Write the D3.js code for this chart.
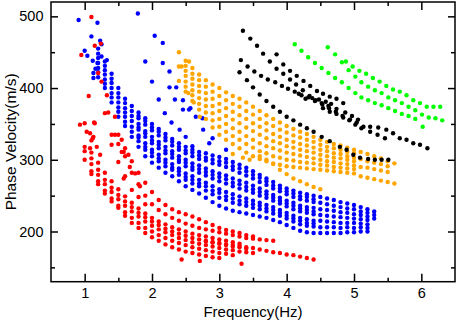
<!DOCTYPE html>
<html>
<head>
<meta charset="utf-8">
<script src="https://cdn.jsdelivr.net/npm/d3@7"></script>
<style>
    body { margin: 0; background: #fff; }
    svg { display: block; font-family: "Liberation Sans", Arial, sans-serif; }
</style>
</head>
<body>
<div class="scatter_chart"></div>
<script>
const _ = null

// axis ticks
const xTicks = [1, 2, 3, 4, 5, 6]
const xMinorTicks = [1.5, 2.5, 3.5, 4.5, 5.5]
const yTicks = [200, 300, 400, 500]
const yMinorTicks = [150, 250, 350, 450]

// red: frequency grid + rows of phase velocity
const redFreq = [1.0, 1.1, 1.2, 1.3, 1.4, 1.5, 1.6, 1.7, 1.8, 1.9,
    2.0, 2.1, 2.2, 2.3, 2.4, 2.5, 2.6, 2.7, 2.8, 2.9,
    3.0, 3.1, 3.2, 3.3, 3.4, 3.5, 3.6, 3.7, 3.8, 3.9,
    4.0, 4.1, 4.2, 4.3, 4.4]
const redRows = [
    [_, _, _, _, _, 335, 316, 298, 282, 268, 255, 244, 237, 231, 227, 224, 221, 217, 213, 209, 205, 202, 200, 198, 195, 193, _, _, _, _, _, _, _, _, _],
    [_, _, _, _, 335, 322, 305, 282, 266, 250, 238, 230, 224, 219, 215, 211, 208, 205, 203, 201, 199, 197, 195, 193, 191, 190, 189, 188, 187, _, _, _, _, _, _],
    [_, _, _, _, 321, 297, 277, 258, 248, 238, _, _, _, _, _, _, _, _, _, _, _, _, _, _, _, _, _, _, _, _, _, _, _, _, _],
    [_, 310, 296, 282, 270, 259, 249, 240, 232, 225, 219, 214, 210, 206, 203, 200, 197, 195, 193, 191, 189, 187, 185, 183, _, _, _, _, _, _, _, _, _, _, _],
    [318, 302, 286, 272, 261, 251, 242, 234, 226, 220, 214, 209, 204, 200, 197, 194, 191, 189, 187, 185, 183, 181, 179, 178, 176, _, _, _, _, _, _, _, _, _, _],
    [312, 294, 279, 266, 255, 245, 236, 228, 221, 214, 208, 203, 199, 195, 191, 188, 185, 183, 181, 179, 177, 175, 174, 172, 171, 170, _, _, _, _, _, _, _, _, _],
    [300, 284, 270, 257, 246, 236, 227, 219, 212, 205, 200, 195, 191, 187, 184, 181, 178, 176, 174, 172, 170, 169, 167, _, _, _, _, _, _, _, _, _, _, _, _],
    [_, 280, 266, 253, 242, 233, 222, 212, 205, 198, 192, 187, 182, 178, 175, 172, 170, 168, 166, 164, 163, _, _, _, _, _, _, _, _, _, _, _, _, _, _],
    [_, _, _, _, _, _, _, _, _, _, _, _, _, _, _, _, _, _, 186, 185, 184, 182, 181, 180, 178, 177, 175, 173, 171, 170, 168, 167, 165, 163, 161]
]
const redExtra = [[1.1, 499], [0.95, 446], [1.15, 459], [1.24, 462], [1.2, 421], [1.25, 409], [1.33, 390],
    [1.06, 389], [0.93, 349], [1.0, 351], [1.15, 351], [1.3, 365], [1.35, 366], [1.45, 335], [1.03, 339],
    [1.08, 337], [1.13, 332], [1.1, 327], [1.18, 318], [1.08, 316], [1.45, 360], [1.14, 352], [1.12, 330],
    [1.55, 328], [1.58, 311], [1.67, 290], [1.75, 281], [1.58, 274], [1.82, 263], [2.44, 161], [2.71, 159],
    [3.33, 155], [1.23, 307], [1.55, 311], [1.65, 307]]

// blue
const blueFreq = [1.0, 1.1, 1.2, 1.3, 1.4, 1.5, 1.6, 1.7, 1.8, 1.9,
    2.0, 2.1, 2.2, 2.3, 2.4, 2.5, 2.6, 2.7, 2.8, 2.9,
    3.0, 3.1, 3.2, 3.3, 3.4, 3.5, 3.6, 3.7, 3.8, 3.9,
    4.0, 4.1, 4.2, 4.3, 4.4, 4.5, 4.6, 4.7, 4.8, 4.9,
    5.0, 5.1, 5.2, 5.3]
const blueRows = [
    [_, _, 455, 437, 420, 400, 385, 375, 366, 358, 350, 343, 336, 329, 323, 318, 314, 311, 309, 306, 304, 301, 297, 293, 289, 284, 279, 274, 269, 264, 260, 257, 254, 252, 250, 248, 246, 244, 241, 239, 237, 234, 231, 228],
    [_, _, _, _, _, _, _, _, 361, 354, 345, 339, 331, 325, 318, 313, 310, 306, 303, 300, 298, 296, 291, 288, 284, 279, 275, 270, 264, 260, 256, 253, 249, 248, 245, _, _, _, _, _, _, _, _, _],
    [_, _, 448, 431, 413, 393, 379, 368, 358, 349, 341, 334, 327, 320, 314, 309, 305, 301, 299, 295, 293, 290, 286, 282, 278, 274, 269, 265, 260, 256, 252, 248, 245, 243, 241, 240, 238, 236, 234, 232, 231, 228, 226, 223],
    [_, _, 442, 425, 407, 387, 372, 361, 350, 340, 332, 325, 318, 312, 305, 300, 295, 292, 288, 284, 281, 278, 274, 271, 268, 264, 260, 256, 251, 247, 243, 240, 236, 234, 233, 231, 230, 229, 227, 226, 224, 223, 221, 218],
    [_, _, _, _, _, _, _, _, 345, 337, 327, 321, 313, 308, 300, 296, 290, 287, 283, 279, 276, 273, 268, 266, 262, 259, 255, 252, 247, 243, 239, 236, 232, 230, 228, _, _, _, _, _, _, _, _, _],
    [_, _, 435, 419, 400, 380, 366, 354, 342, 332, 323, 316, 309, 303, 297, 291, 286, 282, 278, 274, 270, 267, 263, 260, 257, 254, 250, 247, 243, 239, 235, 231, 228, 226, 224, 223, 222, 221, 220, 219, 218, 217, 216, _],
    [_, _, 428, 412, 393, 373, 360, 346, 334, 323, 314, 307, 300, 294, 288, 281, 277, 272, 268, 263, 259, 255, 252, 249, 246, 243, 240, 237, 234, 230, 226, 222, 219, 217, 215, 215, 214, 213, 212, 212, 212, 211, 210, _],
    [_, _, _, _, _, _, _, _, 331, 318, 310, 302, 296, 289, 284, 276, 272, 267, 263, 257, 254, 249, 246, 243, 241, 238, 236, 232, 230, 226, 222, 218, 215, 212, 211, _, _, _, _, _, _, _, _, _],
    [_, _, 422, 406, 387, 367, 353, 339, 326, 314, 305, 298, 291, 286, 279, 272, 267, 263, 257, 252, 247, 244, 240, 238, 236, 233, 231, 228, 225, 222, 218, 214, 210, 208, 207, 206, 206, 206, 205, 206, 205, 206, 205, _],
    [_, _, 415, 400, 380, 360, 347, 332, 318, 305, 296, 289, 282, 277, 270, 263, 258, 253, 247, 241, 236, 232, 229, 227, 225, 223, 221, 219, 216, 213, 209, 205, 201, 199, 198, 198, 198, 198, 198, 199, 199, 200, 200, _]
]
const blueExtra = [[0.91, 495], [1.19, 491], [1.1, 472], [1.23, 466], [1.25, 461], [1.0, 452], [1.04, 445],
    [1.12, 438], [1.19, 435], [1.25, 444], [1.33, 439], [1.13, 421], [1.13, 414], [1.16, 427],
    [1.79, 504], [2.04, 473], [1.9, 437], [2.0, 409], [2.1, 384], [2.16, 463], [2.16, 435], [2.26, 423],
    [2.26, 401], [2.36, 401], [2.34, 384], [2.46, 383], [2.19, 365], [2.29, 352], [2.46, 370], [2.55, 370],
    [2.65, 360], [2.75, 358], [2.5, 332], [2.6, 319], [2.76, 342], [2.85, 323], [2.9, 330], [3.1, 314],
    [2.41, 342], [2.57, 372]]

// orange
const orangeFreq = [2.4, 2.5, 2.6, 2.7, 2.8, 2.9, 3.0, 3.1, 3.2, 3.3,
    3.4, 3.5, 3.6, 3.7, 3.8, 3.9, 4.0, 4.1, 4.2, 4.3,
    4.4, 4.5, 4.6, 4.7, 4.8, 4.9, 5.0, 5.1, 5.2, 5.3,
    5.4, 5.5, 5.6]
const orangeRows = [
    [450, 438, 428, 419, 411, 405, 400, 394, 389, 385, 380, 374, 368, 362, 357, 352, 347, 343, 339, 336, 332, 328, 325, 322, 320, 317, 314, 311, 308, 305, 302, 298, 295],
    [_, 431, 420, 411, 402, 395, 389, 383, 378, 374, 368, 363, 357, 351, 347, 342, 338, 334, 331, 328, 325, 321, 318, 316, 314, 311, 309, _, _, _, _, _, _],
    [_, 424, 413, 403, 393, 385, 378, 372, 367, 362, 357, 351, 346, 341, 336, 332, 328, 325, 322, 320, 317, 314, 312, 309, 308, 305, 303, 301, 298, 296, 294, 291, _],
    [430, 417, 405, 395, 384, 375, 368, 361, 356, 351, 345, 340, 335, 330, 326, 323, 319, 317, 314, 312, 310, 307, 305, 303, 302, 300, 298, _, _, _, _, _, _],
    [_, 409, 397, 386, 375, 365, 357, 350, 344, 339, 333, 328, 323, 319, 316, 313, 310, 308, 306, 304, 302, 300, 298, 297, 295, 294, 292, 290, 289, 287, 285, 283, _],
    [_, 402, 390, 378, 366, 355, 346, 339, 333, 328, 322, 317, 312, 309, 305, 303, 300, 299, 297, 296, 295, 293, 292, 290, 289, 288, 287, _, _, _, _, _, _],
    [410, 395, 382, 370, 357, 345, 335, 328, 322, 316, 310, 305, 301, 298, 295, 293, 291, 290, 289, 288, 287, 286, 285, 284, 283, 282, 281, _, _, _, _, _, _]
]
const orangeExtra = [[2.55, 437], [2.44, 430], [2.54, 393], [2.71, 360], [2.62, 380],
    [3.2, 308], [3.35, 303], [3.45, 300],
    [3.6, 305], [3.7, 300], [3.8, 294], [3.9, 286], [4.0, 280], [4.1, 274], [4.2, 270], [4.3, 266], [4.4, 262], [4.5, 259],
    [5.1, 277], [5.2, 275], [5.3, 273], [5.4, 271], [5.5, 269], [5.6, 267]]

// black
const blackPoints = [
    [3.35, 480], [3.46, 469], [3.56, 459], [3.65, 448], [3.75, 437], [3.85, 427], [3.95, 420], [4.05, 412], [4.14, 405],
    [4.24, 397], [4.34, 389], [4.43, 383], [4.53, 377], [4.63, 372], [4.73, 367], [4.83, 361], [4.93, 355], [5.02, 349],
    [5.11, 344], [5.24, 346], [5.36, 345], [5.48, 342], [5.58, 337], [5.68, 330], [5.78, 328], [5.88, 323], [5.98, 321], [6.09, 316],
    [3.32, 439], [3.42, 430], [3.52, 423], [3.62, 417], [3.72, 412], [3.83, 408], [3.93, 403], [4.02, 399], [4.12, 395],
    [4.22, 390], [4.32, 387], [4.42, 382], [4.52, 379], [4.62, 375], [4.74, 371], [4.87, 366], [4.97, 361], [5.06, 356],
    [3.30, 422], [3.41, 411], [3.50, 401], [3.60, 391], [3.70, 382], [3.80, 374], [3.90, 367], [4.0, 360], [4.1, 355],
    [4.2, 349], [4.3, 344], [4.4, 339], [4.52, 332], [4.64, 326], [4.79, 318], [4.89, 314], [4.99, 307], [5.09, 303],
    [5.21, 301], [5.31, 300], [5.41, 300], [5.51, 300],
    [3.85, 447], [3.95, 433], [4.05, 424], [4.15, 417], [4.25, 410], [4.35, 403], [4.45, 396], [4.54, 392], [4.64, 388],
    [4.74, 385], [4.84, 379],
    [4.54, 372], [4.64, 367], [4.74, 364], [4.84, 359], [4.94, 356], [5.04, 352], [5.14, 346], [5.24, 339], [5.35, 335], [5.46, 330],
    [4.18, 392], [4.28, 385], [4.38, 386], [4.48, 384], [4.58, 381], [4.66, 378]]

// green
const greenPoints = [
    [4.12, 461], [4.22, 452], [4.32, 443], [4.42, 435], [4.52, 428], [4.62, 421], [4.72, 414], [4.82, 408], [4.92, 400],
    [5.02, 393], [5.11, 387], [5.21, 383], [5.31, 379], [5.41, 376], [5.51, 372], [5.61, 368], [5.71, 364], [5.81, 361],
    [5.91, 357], [6.02, 346],
    [4.61, 457], [4.72, 447], [4.82, 436], [4.88, 437], [4.98, 430], [5.08, 424], [5.18, 420], [5.28, 414], [5.38, 409],
    [5.48, 403], [5.58, 398], [5.68, 395], [5.78, 390], [5.88, 383], [5.98, 379], [6.08, 374], [6.18, 374], [6.28, 374],
    [4.92, 425], [5.02, 416], [5.11, 408], [5.21, 402], [5.31, 397], [5.41, 393], [5.51, 387], [5.61, 383], [5.71, 379],
    [5.81, 374], [5.91, 369], [6.01, 363], [6.11, 359], [6.21, 358], [6.31, 355]]

function gridToPoints(freqs, rows) {
    const points = []
    rows.forEach(row => row.forEach((v, i) => {
        if (v !== null) points.push([freqs[i], v])
    }))
    return points
}

function drawChart() {

    const series = [
        { color: "#0000ff", points: gridToPoints(blueFreq, blueRows).concat(blueExtra) },
        { color: "#ff0000", points: gridToPoints(redFreq, redRows).concat(redExtra) },
        { color: "#ffa500", points: gridToPoints(orangeFreq, orangeRows).concat(orangeExtra) },
        { color: "#000000", points: blackPoints },
        { color: "#00ff00", points: greenPoints },
    ]

    const freqAccessor = d => d[0]
    const velocityAccessor = d => d[1]

    // set dimensions

    let dimensions = {
        width: 457,
        height: 322,
        margin: {
            top: 2,
            right: 2,
            bottom: 40.3,
            left: 51,
        }
    }
    dimensions.boundedWidth = dimensions.width - dimensions.margin.left - dimensions.margin.right
    dimensions.boundedHeight = dimensions.height - dimensions.margin.top - dimensions.margin.bottom

    const wrapper = d3.select(".scatter_chart")
        .append("svg")
        .attr("width", dimensions.width)
        .attr("height", dimensions.height)

    const bounds = wrapper.append("g")
        .attr("transform", `translate(${dimensions.margin.left}, ${dimensions.margin.top})`)

    // scales

    const xScale = d3.scaleLinear()
        .domain([0.5, 6.5])
        .range([0, dimensions.boundedWidth])

    const yScale = d3.scaleLinear()
        .domain([130, 520])
        .range([dimensions.boundedHeight, 0])

    // points

    series.forEach(s => {
        bounds.append("g")
            .selectAll("circle")
            .data(s.points)
            .join("circle")
            .attr("cx", d => xScale(freqAccessor(d)))
            .attr("cy", d => yScale(velocityAccessor(d)))
            .attr("r", 2.2)
            .attr("fill", s.color)
    })

    // axes, ticks pointing inwards

    const styleAxis = g => {
        g.select(".domain").remove()
        g.selectAll(".tick line").attr("stroke", "#000").attr("stroke-width", 1.5)
        g.selectAll(".tick text").attr("fill", "#000").style("font-size", "14.5px")
    }

    bounds.append("g")
        .attr("transform", `translate(0, ${dimensions.boundedHeight})`)
        .call(d3.axisBottom(xScale).tickValues(xTicks).tickSize(-8).tickPadding(6.5).tickFormat(d3.format("d")))
        .call(styleAxis)
    bounds.append("g")
        .attr("transform", `translate(0, ${dimensions.boundedHeight})`)
        .call(d3.axisBottom(xScale).tickValues(xMinorTicks).tickSize(-4).tickFormat(""))
        .call(styleAxis)
    bounds.append("g")
        .call(d3.axisTop(xScale).tickValues(xTicks).tickSize(-8).tickFormat(""))
        .call(styleAxis)
    bounds.append("g")
        .call(d3.axisTop(xScale).tickValues(xMinorTicks).tickSize(-4).tickFormat(""))
        .call(styleAxis)

    bounds.append("g")
        .call(d3.axisLeft(yScale).tickValues(yTicks).tickSize(-7).tickPadding(7.5).tickFormat(d3.format("d")))
        .call(styleAxis)
    bounds.append("g")
        .call(d3.axisLeft(yScale).tickValues(yMinorTicks).tickSize(-4).tickFormat(""))
        .call(styleAxis)
    bounds.append("g")
        .attr("transform", `translate(${dimensions.boundedWidth}, 0)`)
        .call(d3.axisRight(yScale).tickValues(yTicks).tickSize(-7).tickFormat(""))
        .call(styleAxis)
    bounds.append("g")
        .attr("transform", `translate(${dimensions.boundedWidth}, 0)`)
        .call(d3.axisRight(yScale).tickValues(yMinorTicks).tickSize(-4).tickFormat(""))
        .call(styleAxis)

    // frame

    bounds.append("rect")
        .attr("width", dimensions.boundedWidth)
        .attr("height", dimensions.boundedHeight)
        .attr("fill", "none")
        .attr("stroke", "#000")
        .attr("stroke-width", 1.5)

    // axis titles

    wrapper.append("text")
        .attr("x", dimensions.margin.left + dimensions.boundedWidth / 2)
        .attr("y", 317)
        .attr("text-anchor", "middle")
        .style("font-size", "15px")
        .text("Frequency(Hz)")

    wrapper.append("text")
        .attr("transform", `translate(15.5, ${dimensions.margin.top + dimensions.boundedHeight / 2}) rotate(-90)`)
        .attr("text-anchor", "middle")
        .style("font-size", "15.5px")
        .text("Phase Velocity(m/s)")
}

drawChart()
</script>
</body>
</html>
